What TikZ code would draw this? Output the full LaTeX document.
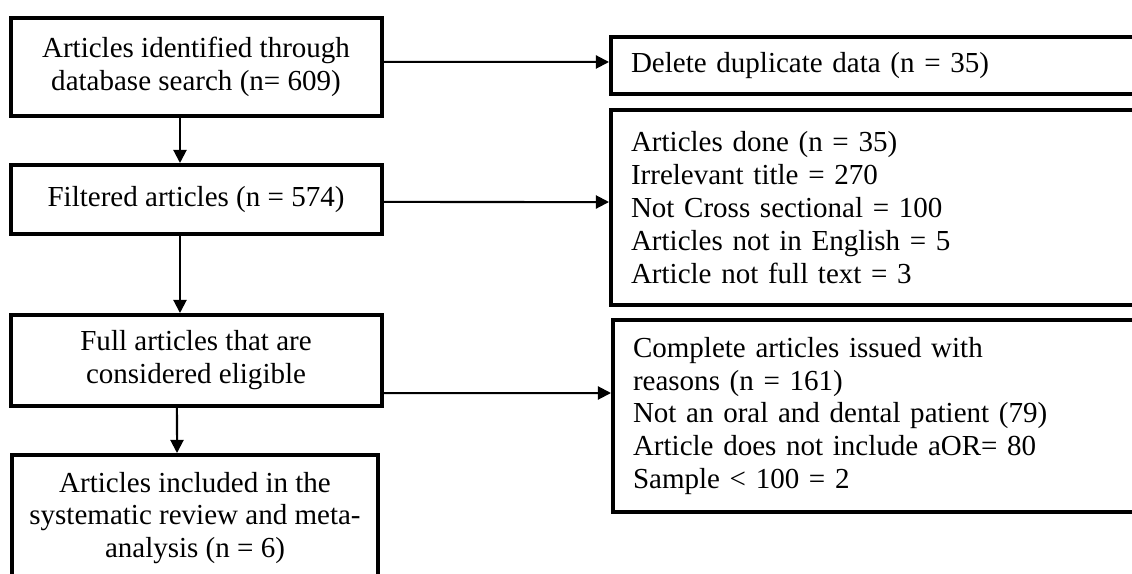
\documentclass[tikz,border=0pt]{standalone}
\usepackage{fontspec}
\setmainfont{Liberation Serif}
\usetikzlibrary{arrows.meta, positioning}
\newdimen\pxu \pxu=0.4135pt
\tikzset{
    leftnode/.style = {draw, rectangle, line width=4\pxu, inner sep=0pt, align=center, minimum width=371\pxu},
    rightnode/.style = {draw, rectangle, line width=4\pxu, anchor=west, inner xsep=20\pxu, inner ysep=0pt,
      text width=520\pxu, align=left},
    connect/.style = {black, line width=0.83pt, -{Triangle[length=5.4pt, width=5.4pt]}},
    every node/.style = {font=\fontsize{12}{13.6}\selectfont}
}
\begin{document}
\begin{tikzpicture}[x=\pxu, y=-\pxu]
    \clip (0,0) rectangle (1132,574);
    % left column
    \node[leftnode, minimum height=98\pxu, name=B1] at (196,67) {Articles identified through\\database search (n= 609)};
    \node[leftnode, minimum height=69\pxu, name=B2] at (196,199.5) {Filtered articles (n = 574)};
    \node[leftnode, minimum height=91\pxu, name=B3] at (196,360.5) {Full articles that are\\considered eligible};
    \node[leftnode, minimum height=126\pxu, minimum width=366\pxu, name=B4] at (195,518) {Articles included in the\\systematic review and meta-\\analysis (n = 6)};
    % right column
    \node[rightnode, minimum height=57\pxu, name=R1] at (609,65.5) {Delete duplicate data (n = 35)};
    \node[rightnode, minimum height=195\pxu, name=R2] at (609,207.5) {Articles done (n = 35)\\Irrelevant title = 270\\Not Cross sectional = 100\\Articles not in English = 5\\Article not full text = 3};
    \node[rightnode, minimum height=192\pxu, name=R3] at (611,416) {Complete articles issued with\\reasons (n = 161)\\Not an oral and dental patient (79)\\Article does not include aOR= 80\\Sample < 100 = 2};
    % arrows
    \draw[connect] ([xshift=-6.62pt]B1.south) -- ([xshift=-6.62pt]B2.north);
    \draw[connect] ([xshift=-6.62pt]B2.south) -- ([xshift=-6.62pt]B3.north);
    \draw[connect] ([xshift=-7.86pt]B3.south) -- ([xshift=-7.44pt]B4.north);
    \draw[connect] ([yshift=2.07pt]B1.east) -- ([yshift=1.45pt]R1.west);
    \draw[connect] ([yshift=-1.03pt]B2.east) -- ([yshift=2.27pt]R2.west);
    \draw[connect] ([yshift=-13.44pt]B3.east) -- ([yshift=9.51pt]R3.west);
\end{tikzpicture}
\end{document}
